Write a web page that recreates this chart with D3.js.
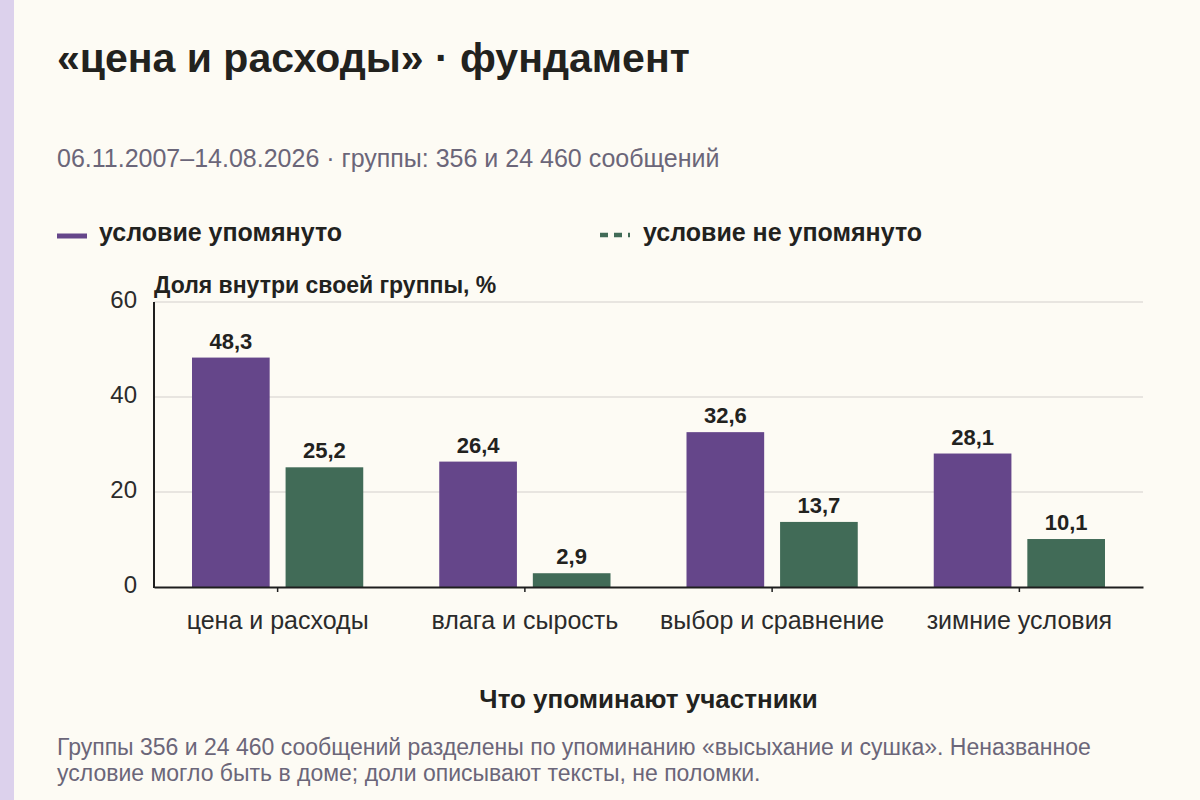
<!DOCTYPE html>
<html>
<head>
<meta charset="utf-8">
<script src="https://cdn.jsdelivr.net/npm/d3@7"></script>
<style>
  body { margin: 0; background: #fdfbf4; }
  svg { display: block; font-family: "Liberation Sans", Arial, sans-serif; }
</style>
</head>
<body>
<div id="chart"></div>
<script>
// data
const categories = ['цена и расходы', 'влага и сырость', 'выбор и сравнение', 'зимние условия'];
const seriesNames = ['условие упомянуто', 'условие не упомянуто'];
const mentioned = [48.3, 26.4, 32.6, 28.1];
const notMentioned = [25.2, 2.9, 13.7, 10.1];
const yTicks = [0, 20, 40, 60];

const width = 1200, height = 800;
const margin = { top: 302, right: 57, bottom: 212, left: 154 };
const colors = ['#65468a', '#416b57'];

const svg = d3.select('#chart').append('svg')
    .attr('width', width)
    .attr('height', height);

svg.append('rect').attr('width', width).attr('height', height).attr('fill', '#fdfbf4');
svg.append('rect').attr('width', 14).attr('height', height).attr('fill', '#dcd1ec');

// title block
svg.append('text')
    .attr('x', 57).attr('y', 72)
    .style('font-size', '41px').style('font-weight', 'bold').style('fill', '#22221e')
    .text('«цена и расходы» · фундамент');

svg.append('text')
    .attr('x', 57).attr('y', 167)
    .style('font-size', '25px').style('fill', '#6b6679')
    .text('06.11.2007–14.08.2026 · группы: 356 и 24 460 сообщений');

// legend
const legend = svg.append('g');
legend.append('line')
    .attr('x1', 57).attr('x2', 87).attr('y1', 236).attr('y2', 236)
    .attr('stroke', colors[0]).attr('stroke-width', 5);
legend.append('text')
    .attr('x', 99).attr('y', 241)
    .style('font-size', '25px').style('font-weight', 'bold').style('fill', '#22221e')
    .text(seriesNames[0]);
legend.append('line')
    .attr('x1', 600).attr('x2', 630).attr('y1', 235).attr('y2', 235)
    .attr('stroke', colors[1]).attr('stroke-width', 4.5)
    .attr('stroke-dasharray', '8,6');
legend.append('text')
    .attr('x', 643).attr('y', 241)
    .style('font-size', '25px').style('font-weight', 'bold').style('fill', '#22221e')
    .text(seriesNames[1]);

// scales
const x0 = d3.scaleBand()
    .domain(categories)
    .range([margin.left, width - margin.right])
    .paddingInner(0)
    .paddingOuter(0);

const x1 = d3.scaleBand()
    .domain(seriesNames)
    .range([38, x0.bandwidth() - 38])
    .paddingInner(0.17);

const y = d3.scaleLinear()
    .domain([0, 60])
    .range([height - margin.bottom - 1, margin.top]);

// gridlines
svg.append('g')
    .selectAll('line')
    .data(yTicks.filter(d => d > 0))
    .join('line')
    .attr('x1', margin.left).attr('x2', width - margin.right)
    .attr('y1', d => y(d)).attr('y2', d => y(d))
    .attr('stroke', '#d4d0cb').attr('stroke-width', 1.2);

// y axis labels
svg.append('g')
    .selectAll('text')
    .data(yTicks)
    .join('text')
    .attr('x', 137).attr('y', d => y(d))
    .attr('text-anchor', 'end').attr('dominant-baseline', 'middle')
    .style('font-size', '24px').style('fill', '#2b2b2b')
    .text(d => d);

svg.append('text')
    .attr('x', margin.left).attr('y', 293)
    .style('font-size', '23px').style('font-weight', 'bold').style('fill', '#22221e')
    .text('Доля внутри своей группы, %');

// bars
const rows = categories.map((c, i) => ({ cat: c, values: [mentioned[i], notMentioned[i]] }));

const groups = svg.append('g')
    .selectAll('g')
    .data(rows)
    .join('g')
    .attr('transform', d => `translate(${x0(d.cat)},0)`);

groups.selectAll('rect')
    .data(d => d.values.map((v, j) => ({ name: seriesNames[j], v, j })))
    .join('rect')
    .attr('x', d => x1(d.name))
    .attr('width', x1.bandwidth())
    .attr('y', d => y(d.v))
    .attr('height', d => y(0) - y(d.v))
    .attr('fill', d => colors[d.j]);

groups.selectAll('text')
    .data(d => d.values.map((v, j) => ({ name: seriesNames[j], v, j })))
    .join('text')
    .attr('x', d => x1(d.name) + x1.bandwidth() / 2)
    .attr('y', d => y(d.v) - 9)
    .attr('text-anchor', 'middle')
    .style('font-size', '22px').style('font-weight', 'bold').style('fill', '#22221e')
    .text(d => d.v.toFixed(1).replace('.', ','));

// axes lines
svg.append('line')
    .attr('x1', margin.left).attr('x2', margin.left)
    .attr('y1', margin.top).attr('y2', y(0) + 1)
    .attr('stroke', '#1e1e1e').attr('stroke-width', 2);

const xAxis = svg.append('g')
    .attr('transform', `translate(0,${y(0)})`)
    .call(d3.axisBottom(x0).tickSize(5).tickSizeOuter(0).tickPadding(19));
xAxis.select('.domain').attr('stroke', '#1e1e1e').attr('stroke-width', 2);
xAxis.selectAll('.tick line').attr('stroke', '#1e1e1e').attr('stroke-width', 1.5);
xAxis.selectAll('.tick text')
    .style('font-size', '25px').style('fill', '#2b2b2b')
    .style('font-family', '"Liberation Sans", Arial, sans-serif');

svg.append('text')
    .attr('x', (margin.left + width - margin.right) / 2).attr('y', 708)
    .attr('text-anchor', 'middle')
    .style('font-size', '26px').style('font-weight', 'bold').style('fill', '#22221e')
    .text('Что упоминают участники');

// footnote
const note = svg.append('text')
    .attr('x', 57).attr('y', 755)
    .style('font-size', '23px').style('fill', '#6b6679');
note.append('tspan').attr('x', 57)
    .text('Группы 356 и 24 460 сообщений разделены по упоминанию «высыхание и сушка». Неназванное');
note.append('tspan').attr('x', 57).attr('dy', 26)
    .text('условие могло быть в доме; доли описывают тексты, не поломки.');
</script>
</body>
</html>
